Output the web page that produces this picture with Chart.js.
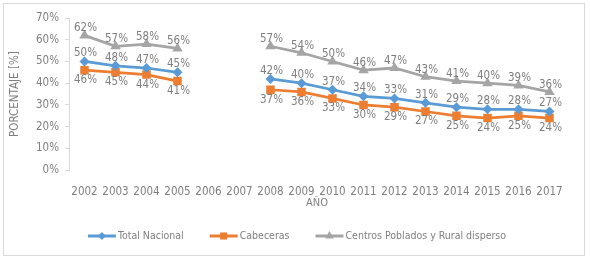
<!DOCTYPE html>
<html>
<head>
<meta charset="utf-8">
<script src="https://cdn.jsdelivr.net/npm/chart.js@4.4.1/dist/chart.umd.min.js"></script>
<style>
  html, body { margin: 0; padding: 0; background: #fff; }
  #wrap { position: relative; width: 590px; height: 259px; }
  #frame { position: absolute; left: 3px; top: 3px; width: 580px; height: 251px; border: 1px solid #d9d9d9; pointer-events: none; }
  canvas { position: absolute; left: 0; top: 0; }
</style>
</head>
<body>
<div id="wrap">
  <canvas id="chart" width="590" height="259"></canvas>
  <div id="frame"></div>
</div>
<script>
const years = ["2002", "2003", "2004", "2005", "2006", "2007", "2008", "2009", "2010",
  "2011", "2012", "2013", "2014", "2015", "2016", "2017"];
const totalNacional = [50, 48, 47, 45, null, null, 42, 40, 37, 34, 33, 31, 29, 28, 28, 27];
const cabeceras = [46, 45, 44, 41, null, null, 37, 36, 33, 30, 29, 27, 25, 24, 25, 24];
const rural = [62, 57, 58, 56, null, null, 57, 54, 50, 46, 47, 43, 41, 40, 39, 36];
const yTicks = [0, 10, 20, 30, 40, 50, 60, 70];

const FONT = "'Liberation Sans Narrow', 'DejaVu Sans Condensed', 'Roboto', sans-serif";
const GREY = "#7f7f7f";

// labels above (-) or below (+) the point
const labelOffsets = [-8, 10, -7];

const dataLabels = {
  id: "dataLabels",
  afterDatasetsDraw(chart) {
    const ctx = chart.ctx;
    ctx.save();
    ctx.font = "11.5px " + FONT;
    ctx.fillStyle = GREY;
    ctx.textAlign = "center";
    ctx.textBaseline = "middle";
    chart.data.datasets.forEach((ds, i) => {
      const meta = chart.getDatasetMeta(i);
      meta.data.forEach((pt, j) => {
        if (ds.data[j] == null) return;
        ctx.fillText(ds.data[j] + "%", pt.x + 1, pt.y + labelOffsets[i]);
      });
    });
    ctx.restore();
  }
};

const extras = {
  id: "extras",
  afterDraw(chart) {
    const ctx = chart.ctx;
    const area = chart.chartArea;
    ctx.save();
    ctx.font = "11px " + FONT;
    ctx.fillStyle = GREY;
    ctx.textBaseline = "middle";
    ctx.textAlign = "center";
    ctx.fillText("AÑO", (area.left + area.right) / 2, 203);

    // legend: line with marker, then text
    ctx.font = "10.5px " + FONT;
    const items = chart.data.datasets.map((ds) => ({
      text: ds.label, color: ds.borderColor, style: ds.pointStyle, r: ds.pointRadius
    }));
    const lineW = 28, gap = 2, spacing = 26;
    let total = 0;
    items.forEach((it) => { it.w = lineW + gap + ctx.measureText(it.text).width; total += it.w; });
    total += spacing * (items.length - 1);
    let x = 297 - total / 2;
    const y = 236;
    ctx.textAlign = "left";
    items.forEach((it) => {
      ctx.strokeStyle = it.color;
      ctx.lineWidth = 3;
      ctx.beginPath();
      ctx.moveTo(x, y);
      ctx.lineTo(x + lineW, y);
      ctx.stroke();
      ctx.fillStyle = it.color;
      Chart.helpers.drawPoint(ctx, { pointStyle: it.style, radius: it.r - 1, borderWidth: 0 }, x + lineW / 2, y);
      ctx.fillStyle = GREY;
      ctx.fillText(it.text, x + lineW + gap, y);
      x += it.w + spacing;
    });
    ctx.restore();
  }
};

new Chart(document.getElementById("chart"), {
  type: "line",
  data: {
    labels: years,
    datasets: [
      {
        label: "Total Nacional",
        data: totalNacional,
        borderColor: "#5b9bd5",
        backgroundColor: "#5b9bd5",
        borderWidth: 2.75,
        pointStyle: "rectRot",
        pointRadius: 5,
        pointBorderWidth: 0
      },
      {
        label: "Cabeceras",
        data: cabeceras,
        borderColor: "#ed7d31",
        backgroundColor: "#ed7d31",
        borderWidth: 2.75,
        pointStyle: "rect",
        pointRadius: 6,
        pointBorderWidth: 0
      },
      {
        label: "Centros Poblados y Rural disperso",
        data: rural,
        borderColor: "#a5a5a5",
        backgroundColor: "#a5a5a5",
        borderWidth: 2.75,
        pointStyle: "triangle",
        pointRadius: 6,
        pointBorderWidth: 0
      }
    ]
  },
  options: {
    responsive: false,
    animation: false,
    spanGaps: false,
    layout: { padding: { left: 8, top: 18, right: 25, bottom: 53 } },
    plugins: {
      legend: { display: false },
      tooltip: { enabled: false }
    },
    scales: {
      x: {
        offset: true,
        grid: { display: false },
        border: { display: false },
        ticks: { color: GREY, font: { family: FONT, size: 11.5 }, padding: 7, maxRotation: 0, autoSkip: false }
      },
      y: {
        min: 0,
        max: 70,
        afterBuildTicks(scale) { scale.ticks = yTicks.map((v) => ({ value: v })); },
        grid: { drawOnChartArea: false, color: "#d9d9d9", tickLength: 4 },
        border: { display: true, color: "#d9d9d9", width: 1 },
        ticks: {
          color: GREY,
          font: { family: FONT, size: 11.5 },
          padding: 6,
          callback: (v) => v + "%"
        },
        title: {
          display: true,
          text: "PORCENTAJE [%]",
          color: GREY,
          font: { family: FONT, size: 11.5 },
          padding: 0
        },
        afterFit(scale) { scale.width = 61; }
      }
    }
  },
  plugins: [dataLabels, extras]
});
</script>
</body>
</html>
